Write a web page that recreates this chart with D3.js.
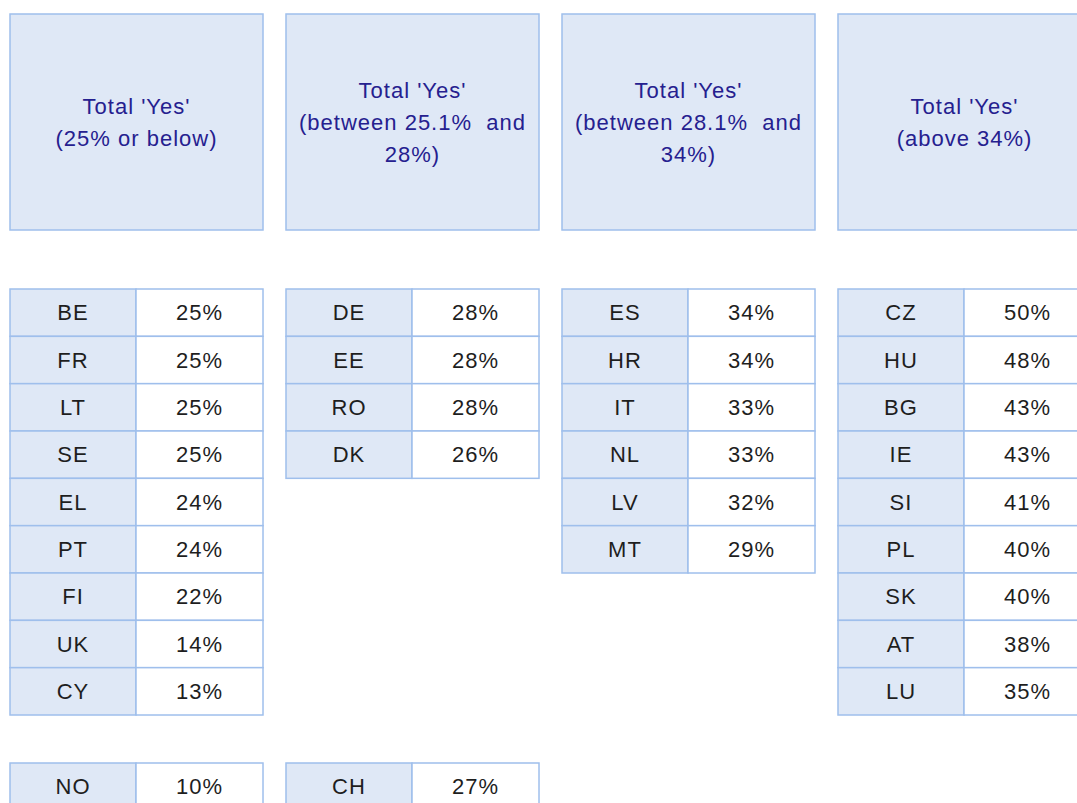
<!DOCTYPE html>
<html>
<head>
<meta charset="utf-8">
<script src="https://cdn.jsdelivr.net/npm/d3@7"></script>
<style>
  body { margin: 0; background: #fff; overflow: hidden; }
  text { font-family: "Liberation Sans", Arial, sans-serif; white-space: pre; letter-spacing: 1px; }
</style>
</head>
<body>
<div id="chart"></div>
<script>
// group headers (one line per entry)
var headers = [
    ["Total 'Yes'", "(25% or below)"],
    ["Total 'Yes'", "(between 25.1%  and", "28%)"],
    ["Total 'Yes'", "(between 28.1%  and", "34%)"],
    ["Total 'Yes'", "(above 34%)"]
];

var countries = [
    ["BE", "FR", "LT", "SE", "EL", "PT", "FI", "UK", "CY"],
    ["DE", "EE", "RO", "DK"],
    ["ES", "HR", "IT", "NL", "LV", "MT"],
    ["CZ", "HU", "BG", "IE", "SI", "PL", "SK", "AT", "LU"]
];
var values = [
    [25, 25, 25, 25, 24, 24, 22, 14, 13],
    [28, 28, 28, 26],
    [34, 34, 33, 33, 32, 29],
    [50, 48, 43, 43, 41, 40, 40, 38, 35]
];

// non-EU countries shown below
var extraCountries = ["NO", "CH"];
var extraValues = [10, 27];
var extraGroup = [0, 1];

var width = 1077, height = 803;
var boxW = 253, keyW = 126;
var fill = "#dfe8f6", border = "#9fbfec";

var svg = d3.select("#chart")
    .append("svg")
    .attr("width", width)
    .attr("height", height);

var x = d3.scaleLinear().domain([0, 1]).range([10, 286]);
var hdrY = d3.scaleLinear().domain([0, 1]).range([14, 230]);
var rowY = d3.scaleLinear().domain([0, 9]).range([289, 715]);
var extraY = d3.scaleLinear().domain([0, 1]).range([763, 810]);
var rowH = rowY(1) - rowY(0);

// header boxes
var hdr = svg.selectAll("g.hdr")
    .data(headers)
    .enter()
    .append("g")
    .attr("class", "hdr");

hdr.append("rect")
    .attr("x", function (d, i) { return x(i); })
    .attr("y", hdrY(0))
    .attr("width", boxW)
    .attr("height", hdrY(1) - hdrY(0))
    .style("fill", fill)
    .style("stroke", border)
    .style("stroke-width", "1.5px");

hdr.each(function (lines, i) {
    var cy = (hdrY(0) + hdrY(1)) / 2;
    var lh = 32;
    d3.select(this).selectAll("text")
        .data(lines)
        .enter()
        .append("text")
        .attr("x", x(i) + boxW / 2)
        .attr("y", function (d, j) { return cy + (j - (lines.length - 1) / 2) * lh; })
        .attr("dy", "0.35em")
        .attr("text-anchor", "middle")
        .attr("font-size", "22px")
        .attr("fill", "#25208f")
        .text(function (d) { return d; });
});

// rows
function drawRow(g, cx, y0, name, val) {
    g.append("rect")
        .attr("x", cx).attr("y", y0)
        .attr("width", keyW).attr("height", rowH)
        .style("fill", fill).style("stroke", border).style("stroke-width", "1.5px");
    g.append("rect")
        .attr("x", cx + keyW).attr("y", y0)
        .attr("width", boxW - keyW).attr("height", rowH)
        .style("fill", "#fff").style("stroke", border).style("stroke-width", "1.5px");
    g.append("text")
        .attr("x", cx + keyW / 2).attr("y", y0 + rowH / 2)
        .attr("dy", "0.35em").attr("text-anchor", "middle")
        .attr("font-size", "22px").attr("fill", "#1e1e1e")
        .text(name);
    g.append("text")
        .attr("x", cx + keyW + (boxW - keyW) / 2).attr("y", y0 + rowH / 2)
        .attr("dy", "0.35em").attr("text-anchor", "middle")
        .attr("font-size", "22px").attr("fill", "#1e1e1e")
        .text(val + "%");
}

countries.forEach(function (list, i) {
    var g = svg.append("g");
    list.forEach(function (c, j) {
        drawRow(g, x(i), rowY(j), c, values[i][j]);
    });
});

extraCountries.forEach(function (c, k) {
    drawRow(svg.append("g"), x(extraGroup[k]), extraY(0), c, extraValues[k]);
});
</script>
</body>
</html>
